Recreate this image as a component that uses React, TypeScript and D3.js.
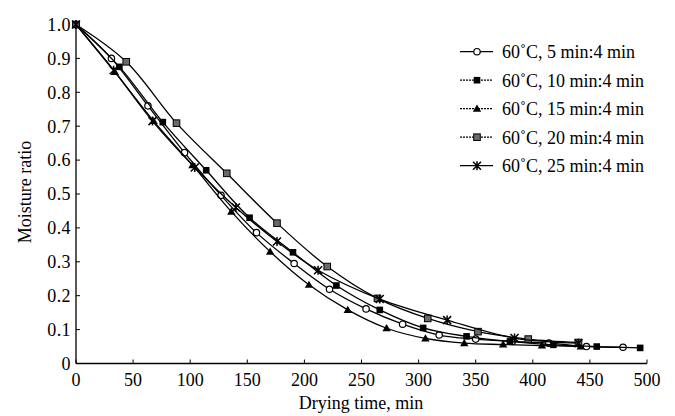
import React from "react";
import * as d3 from "d3";

const seriesNames = [
  "60\u02daC, 5 min:4 min",
  "60\u02daC, 10 min:4 min",
  "60\u02daC, 15 min:4 min",
  "60\u02daC, 20 min:4 min",
  "60\u02daC, 25 min:4 min",
];

const t5 = [0, 31, 63, 95, 127, 158, 191, 222, 254, 286, 318, 350, 382, 414, 447, 479];
const mr5 = [1, 0.9, 0.76, 0.622, 0.496, 0.386, 0.295, 0.219, 0.161, 0.116, 0.084, 0.072, 0.065, 0.06, 0.05, 0.048];

const t10 = [0, 38, 76, 114, 152, 190, 228, 266, 304, 342, 380, 418, 456, 494];
const mr10 = [1, 0.875, 0.712, 0.57, 0.43, 0.328, 0.23, 0.158, 0.105, 0.08, 0.065, 0.055, 0.05, 0.046];

const t15 = [0, 34, 68, 102, 136, 170, 204, 238, 272, 306, 340, 374, 408, 442];
const mr15 = [1, 0.86, 0.715, 0.585, 0.448, 0.33, 0.232, 0.158, 0.104, 0.074, 0.06, 0.056, 0.053, 0.05];

const t20 = [0, 44, 88, 132, 176, 220, 264, 308, 352, 396, 440];
const mr20 = [1, 0.89, 0.709, 0.561, 0.414, 0.286, 0.192, 0.133, 0.094, 0.072, 0.062];

const t25 = [0, 33, 67, 104, 140, 176, 212, 266, 325, 384, 440];
const mr25 = [1, 0.865, 0.715, 0.578, 0.46, 0.36, 0.275, 0.19, 0.128, 0.075, 0.06];

const xTicks = [0, 50, 100, 150, 200, 250, 300, 350, 400, 450, 500];
const yTicks = [0, 0.1, 0.2, 0.3, 0.4, 0.5, 0.6, 0.7, 0.8, 0.9, 1.0];

const W = 675;
const H = 416;
const FONT = "'Liberation Serif', 'DejaVu Serif', serif";
const FS = 18;

const x = d3.scaleLinear().domain([0, 500]).range([76, 647]);
const y = d3.scaleLinear().domain([0, 1]).range([363.5, 24.5]);

type Kind = "circle" | "square" | "triangle" | "graysquare" | "star";

const series: { name: string; t: number[]; v: number[]; kind: Kind }[] = [
  { name: seriesNames[0], t: t5, v: mr5, kind: "circle" },
  { name: seriesNames[1], t: t10, v: mr10, kind: "square" },
  { name: seriesNames[2], t: t15, v: mr15, kind: "triangle" },
  { name: seriesNames[3], t: t20, v: mr20, kind: "graysquare" },
  { name: seriesNames[4], t: t25, v: mr25, kind: "star" },
];

function Marker({ kind, cx, cy }: { kind: Kind; cx: number; cy: number }) {
  if (kind === "circle")
    return <circle cx={cx} cy={cy} r={3.2} fill="#fff" stroke="#000" strokeWidth={1.2} />;
  if (kind === "square")
    return <rect x={cx - 3.3} y={cy - 3.3} width={6.6} height={6.6} fill="#000" />;
  if (kind === "triangle")
    return (
      <path
        d={`M${cx},${cy - 4.2}L${cx + 4.2},${cy + 3}L${cx - 4.2},${cy + 3}Z`}
        fill="#000"
      />
    );
  if (kind === "graysquare")
    return (
      <rect x={cx - 3.3} y={cy - 3.3} width={6.6} height={6.6} fill="#6a6a6a" stroke="#000" strokeWidth={1} />
    );
  const s = 4;
  return (
    <path
      d={`M${cx - s},${cy - s}L${cx + s},${cy + s}M${cx - s},${cy + s}L${cx + s},${cy - s}M${cx},${cy - s - 0.5}L${cx},${cy + s + 0.5}`}
      stroke="#000"
      strokeWidth={1.5}
      fill="none"
    />
  );
}

export default function App() {
  const line = d3
    .line<[number, number]>()
    .x((d) => x(d[0]))
    .y((d) => y(d[1]))
    .curve(d3.curveCatmullRom.alpha(0.5));

  const legendX = 460;
  const legendY0 = 51.7;
  const legendDy = 28.5;

  return (
    <svg
      width={W}
      height={H}
      viewBox={`0 0 ${W} ${H}`}
      style={{ position: "absolute", left: 0, top: 0, background: "#fff" }}
      fontFamily={FONT}
    >
      <rect x={0} y={0} width={W} height={H} fill="#fff" />
      {/* axes */}
      <line x1={x(0)} x2={x(0)} y1={y(1)} y2={y(0)} stroke="#000" strokeWidth={1.3} />
      <line x1={x(0)} x2={x(500)} y1={y(0)} y2={y(0)} stroke="#000" strokeWidth={1.3} />
      {yTicks.map((v) => (
        <g key={"y" + v}>
          <line x1={x(0)} x2={x(0) + 4} y1={y(v)} y2={y(v)} stroke="#000" strokeWidth={1} />
          <text x={71} y={y(v)} dy="0.35em" textAnchor="end" fontSize={FS} letterSpacing={0.4}>
            {v === 0 ? "0" : v.toFixed(1)}
          </text>
        </g>
      ))}
      {xTicks.map((v) => (
        <g key={"x" + v}>
          <line x1={x(v)} x2={x(v)} y1={y(0)} y2={y(0) - 4} stroke="#000" strokeWidth={1} />
          <text x={x(v)} y={386} textAnchor="middle" fontSize={FS}>
            {v}
          </text>
        </g>
      ))}
      <text x={361} y={409} textAnchor="middle" fontSize={FS}>
        Drying time, min
      </text>
      <text
        transform={`translate(31,192) rotate(-90)`}
        textAnchor="middle"
        fontSize={FS}
      >
        Moisture ratio
      </text>
      {/* series */}
      {series.map((s) => {
        const pts: [number, number][] = s.t.map((tt, i) => [tt, s.v[i]]);
        return (
          <g key={s.name}>
            <path d={line(pts) || ""} fill="none" stroke="#000" strokeWidth={1.3} />
            {pts.map((p, i) => (
              <Marker key={i} kind={s.kind} cx={x(p[0])} cy={y(p[1])} />
            ))}
          </g>
        );
      })}
      {/* legend */}
      {series.map((s, i) => {
        const ly = legendY0 + i * legendDy;
        return (
          <g key={"lg" + i}>
            <line
              x1={legendX}
              x2={legendX + 33}
              y1={ly}
              y2={ly}
              stroke="#000"
              strokeWidth={1.2}
              strokeDasharray={i >= 1 && i <= 3 ? "2,1" : undefined}
            />
            <Marker kind={s.kind} cx={legendX + 17} cy={ly} />
            <text x={legendX + 42} y={ly} dy="0.35em" fontSize={FS}>
              {s.name}
            </text>
          </g>
        );
      })}
    </svg>
  );
}
